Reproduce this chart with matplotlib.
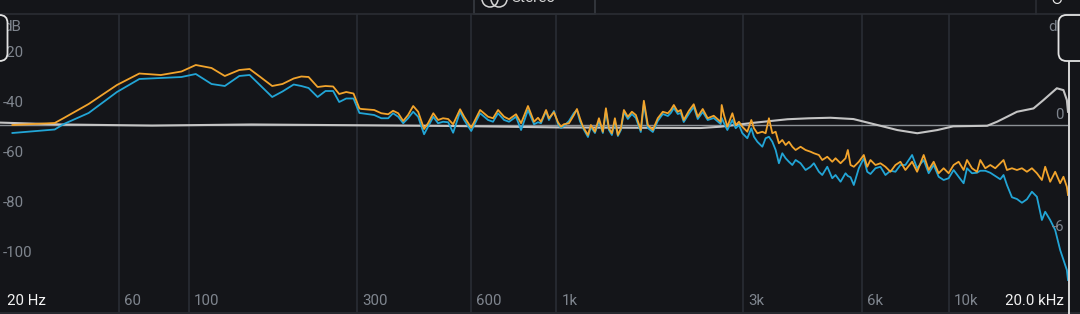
import numpy as np
import matplotlib
matplotlib.use('Agg')
import matplotlib.pyplot as plt
from matplotlib.transforms import blended_transform_factory, offset_copy, IdentityTransform
from matplotlib.patches import FancyBboxPatch, Circle, Rectangle
from matplotlib.lines import Line2D

plt.rcParams['font.family'] = ['Roboto', 'DejaVu Sans']

#### spectrum readings (Hz / dB), split in bands to keep them readable
# a = orange trace, b = blue trace
lo_hz = [23, 35, 38, 47, 59, 70, 82, 95, 105, 117, 128, 141, 151, 162, 175, 187,
         201, 211, 221, 234, 246, 258, 268, 280, 293, 304]
lo_a = [-48.8, -48.0, -46.0, -40.4, -32.8, -28.2, -28.8, -27.4, -24.8, -26.0, -29.2,
        -26.8, -26.4, -29.6, -33.2, -32.4, -30.2, -29.4, -29.6, -33.6, -33.2, -33.4,
        -36.4, -35.6, -36.2, -42.2]
lo_b = [-52.0, -50.6, -48.4, -44.0, -35.6, -30.4, -30.0, -29.6, -28.4, -32.4, -33.2,
        -29.2, -28.8, -33.0, -37.6, -35.4, -32.6, -33.2, -34.0, -37.6, -35.2, -35.2,
        -39.6, -38.2, -38.2, -44.0]

mid1_hz = [308, 333, 348, 363, 374, 386, 398, 410, 423, 436, 452, 463, 478, 492, 507,
           523, 539, 562, 576, 601, 634, 665, 685, 706, 732, 754, 786, 810, 844, 875,
           896, 912]
mid1_a = [-42.4, -42.8, -44.1, -44.5, -43.1, -44.1, -47.2, -44.8, -41.2, -43.5, -50.4,
          -48.1, -44.1, -46.8, -46.1, -46.4, -48.5, -42.5, -45.5, -49.9, -42.8, -45.5,
          -46.1, -42.8, -45.5, -46.5, -44.5, -48.1, -41.2, -47.5, -45.9, -47.5]
mid1_b = [-44.1, -44.8, -46.1, -46.1, -44.1, -45.5, -48.1, -46.1, -43.5, -45.5, -52.5,
          -49.5, -45.5, -48.1, -47.5, -47.7, -51.9, -43.5, -46.8, -51.2, -44.1, -46.8,
          -47.5, -44.1, -46.8, -47.5, -45.5, -50.8, -42.8, -48.5, -47.7, -48.1]

mid2_hz = [940, 956, 985, 1009, 1027, 1045, 1077, 1109, 1129, 1149, 1170, 1205, 1226,
           1256, 1286, 1316, 1340, 1364, 1388, 1413, 1438, 1464, 1490, 1525, 1562, 1599,
           1646, 1676, 1716, 1767, 1819, 1874, 1930, 1964, 1999, 2046, 2082, 2119, 2183,
           2247, 2301, 2369, 2439, 2527, 2632]
mid2_a = [-42.8, -46.1, -43.7, -47.7, -49.5, -48.5, -48.1, -44.8, -42.4, -46.1, -49.5,
          -52.8, -48.8, -51.5, -46.1, -51.5, -42.1, -50.1, -52.1, -46.1, -52.8, -50.1,
          -42.8, -45.5, -43.5, -44.8, -50.8, -39.1, -48.8, -50.8, -46.1, -43.5, -44.1,
          -42.8, -40.8, -43.5, -42.8, -46.8, -43.2, -40.5, -45.5, -42.4, -46.1, -45.1,
          -47.5]
mid2_b = [-43.2, -46.8, -43.2, -48.4, -50.0, -49.2, -47.2, -44.0, -42.8, -47.2, -50.0,
          -53.6, -49.6, -52.0, -47.2, -52.0, -43.2, -50.8, -52.8, -47.2, -53.2, -50.8,
          -43.6, -46.4, -44.4, -46.0, -51.6, -40.4, -50.0, -51.6, -47.2, -44.4, -45.2,
          -44.0, -42.0, -44.4, -44.0, -47.6, -44.4, -41.6, -46.4, -43.6, -46.8, -46.0,
          -48.4]

hi1_hz = [2648, 2684, 2737, 2819, 2874, 2930, 2989, 3077, 3150, 3199, 3263, 3360, 3425,
          3492, 3562, 3632, 3702, 3776, 3850, 3925, 4004, 4082, 4202, 4327, 4456, 4542,
          4677, 4770, 4912, 5057, 5155, 5308, 5465, 5539, 5627, 5736, 5906, 6080, 6202,
          6321, 6508, 6700, 6899, 7103, 7313, 7529]
hi1_a = [-40.8, -44.8, -49.5, -44.1, -48.8, -47.5, -49.5, -51.5, -46.8, -50.1, -52.1,
         -51.5, -52.1, -46.1, -52.1, -51.5, -56.1, -54.8, -56.8, -55.5, -57.5, -58.8,
         -57.5, -58.8, -59.5, -60.1, -60.8, -62.8, -61.5, -63.5, -62.1, -64.1, -62.1,
         -58.8, -64.8, -65.5, -63.5, -60.8, -65.5, -62.8, -64.8, -64.1, -65.5, -67.5,
         -64.8, -63.5]
hi1_b = [-46.0, -48.1, -50.8, -46.8, -50.1, -48.8, -52.1, -54.1, -50.1, -53.5, -55.5,
         -57.5, -54.1, -53.5, -55.5, -58.8, -64.1, -60.1, -62.1, -63.5, -64.8, -62.8,
         -64.1, -66.8, -65.5, -64.1, -67.5, -68.8, -65.5, -70.1, -68.8, -71.5, -68.1,
         -69.2, -69.7, -72.8, -66.1, -62.1, -67.5, -68.4, -66.1, -65.5, -68.8, -67.1,
         -67.5, -64.8]

hi2_hz = [7751, 8061, 8299, 8624, 8879, 9141, 9411, 9688, 9975, 10269, 10573, 10885,
          11102, 11430, 11768, 11996, 12350, 12715, 13090, 13477, 13738, 14013, 14427,
          14852, 15291, 15743, 16207, 16685, 17178, 17511, 18028, 18560, 19107, 19478,
          19867, 20000]
hi2_a = [-66.8, -63.5, -67.5, -60.8, -66.8, -63.5, -68.1, -66.1, -68.1, -64.8, -63.5,
         -66.8, -62.8, -66.1, -67.5, -62.8, -66.1, -64.8, -66.1, -64.1, -62.8, -66.8,
         -66.1, -66.8, -66.1, -67.5, -66.1, -68.1, -70.8, -65.5, -71.5, -67.5, -72.1,
         -69.5, -73.5, -76.8]
hi2_b = [-64.8, -60.8, -66.1, -62.8, -68.1, -64.8, -69.5, -70.8, -70.1, -66.8, -69.5,
         -72.1, -66.1, -68.1, -67.9, -67.1, -67.1, -67.9, -69.2, -70.5, -68.8, -72.8,
         -77.7, -78.4, -79.9, -78.5, -75.5, -77.5, -86.8, -83.5, -86.8, -90.8, -98.8,
         -102.8, -106.8, -110.8]

# gray difference curve, right scale (dB)
diff_hz = [20, 37, 77, 153, 532, 1027, 2340, 2631, 3192, 3894, 4400, 5003, 5722, 6583,
           7397, 8307, 9335, 10246, 12490, 13241, 14013, 14852, 16360, 17340, 18740,
           19478, 19867, 20000]
diff_db = [0.13, 0.03, -0.03, 0.03, -0.05, -0.13, -0.16, -0.09, 0.12, 0.31, 0.36, 0.39,
           0.32, 0.0, -0.27, -0.44, -0.27, -0.07, -0.04, 0.18, 0.44, 0.71, 0.89, 1.34,
           1.97, 1.87, 1.34, 0.71]

grid_hz = [60, 100, 300, 600, 1000, 3000, 6000, 10000]
grid_lbl = ['60', '100', '300', '600', '1k', '3k', '6k', '10k']
left_ticks = [-20, -40, -60, -80, -100]
right_ticks = [0, -6]

#%% colours
BG = '#141519'
GRID = '#2b2f36'
ORANGE = '#f2a42c'
BLUE = '#22a5d6'
TXT = '#7f858e'

W, H = 1080, 314
def fx(px):
    return px / W
def fy(py):
    return 1 - py / H

freq = np.array(lo_hz + mid1_hz + mid2_hz + hi1_hz + hi2_hz, dtype=float)
spec_a = np.array(lo_a + mid1_a + mid2_a + hi1_a + hi2_a)
spec_b = np.array(lo_b + mid1_b + mid2_b + hi1_b + hi2_b)

fig = plt.figure(figsize=(W / 100, H / 100), dpi=100, facecolor=BG)

ax = fig.add_axes([0, fy(312), fx(1068), (312 - 14) / H])
ax2 = ax.twinx()

# the analyzer's frequency axis is roughly log(f + 20)
fwd = lambda f: np.log10(np.maximum(np.asarray(f, dtype=float) + 20, 1e-6))
inv = lambda u: 10 ** np.asarray(u, dtype=float) - 20
ax.set_xscale('function', functions=(fwd, inv))
ax.set_xlim(20, 20000)
ax.set_ylim(-123.6, -4.4)
ax2.set_ylim(-10.02, 5.95)
ax.set_axis_off()
ax2.set_axis_off()
ax.set_zorder(ax2.get_zorder() + 1)

for f in grid_hz:
    ax2.axvline(f, color=GRID, lw=1.1, zorder=0)

ax2.axhline(0, color='#8c9095', lw=1.0, zorder=1)
ax2.plot(diff_hz, diff_db, color='#c4c4c4', lw=1.5, zorder=2)

ax.plot(freq, spec_b, color=BLUE, lw=1.3, zorder=3)
ax.plot(freq, spec_a, color=ORANGE, lw=1.3, zorder=4)

#%% labels
tr_x = offset_copy(blended_transform_factory(ax.transData, fig.transFigure),
                   fig=fig, x=5, y=0, units='dots')
for f, lb in zip(grid_hz, grid_lbl):
    fig.text(f, fy(301), lb, transform=tr_x, color=TXT, fontsize=10.8,
             ha='left', va='center')
fig.text(fx(7), fy(301), '20 Hz', color='#f2f2f2', fontsize=10.8, ha='left', va='center')
fig.text(fx(1005), fy(301), '20.0 kHz', color='#f2f2f2', fontsize=10.8,
         ha='left', va='center')

tr_l = blended_transform_factory(fig.transFigure, ax.transData)
for v in left_ticks:
    fig.text(fx(3), v, str(v), transform=tr_l, color=TXT, fontsize=10.8,
             ha='left', va='center', zorder=1)
fig.text(fx(3), fy(27), 'dB', color=TXT, fontsize=10.8, ha='left', va='center', zorder=1)

tr_r = offset_copy(blended_transform_factory(fig.transFigure, ax2.transData),
                   fig=fig, x=0, y=10, units='dots')
for v in right_ticks:
    fig.text(fx(1064), v, str(v), transform=tr_r, color=TXT, fontsize=10.8,
             ha='right', va='center', zorder=1)
fig.text(fx(1066), fy(27), 'dB', color=TXT, fontsize=10.8, ha='right', va='center', zorder=1)

#%% frame / ui bits
fig.add_artist(Line2D([0, 1], [fy(13.5), fy(13.5)], color='#2a2d33', lw=1.2))
fig.add_artist(Line2D([0, 1], [fy(312.5), fy(312.5)], color='#2a2d33', lw=1.2))
fig.add_artist(Line2D([fx(1035.5), fx(1035.5)], [fy(0), fy(13.5)], color='#2a2d33', lw=1.2))
fig.add_artist(Line2D([fx(1068.5), fx(1068.5)], [fy(61), fy(314)], color='#d8d8d8', lw=1.4))

# "Stereo" selector at top (cut by the top edge, as in the screenshot)
fig.add_artist(Rectangle((fx(474), fy(13.5)), fx(121), 20 / H, transform=fig.transFigure,
                         facecolor=BG, edgecolor='#3a3e45', lw=1.1))
for cx in (490, 499):
    fig.add_artist(Circle((cx, H + 1), 8, transform=IdentityTransform(),
                          facecolor='none', edgecolor='#d6d6d6', lw=1.1))
fig.text(fx(511), fy(-1.5), 'Stereo', color='#d6d6d6', fontsize=11, ha='left', va='center')
fig.text(fx(1057), fy(0.5), '\u21ba', color='#e6e6e6', fontsize=11,
         family=['DejaVu Sans'], ha='center', va='center')

# handles on both sides
for x0, w in ((-14, 21.5), (1058.5, 40)):
    fig.add_artist(FancyBboxPatch((x0, H - 61), w, 46, transform=IdentityTransform(),
                                  boxstyle='round,pad=0,rounding_size=8',
                                  facecolor=BG, edgecolor='#e2e2e2', lw=1.3, zorder=5))

fig.savefig('out.png', dpi=100, facecolor=BG)
